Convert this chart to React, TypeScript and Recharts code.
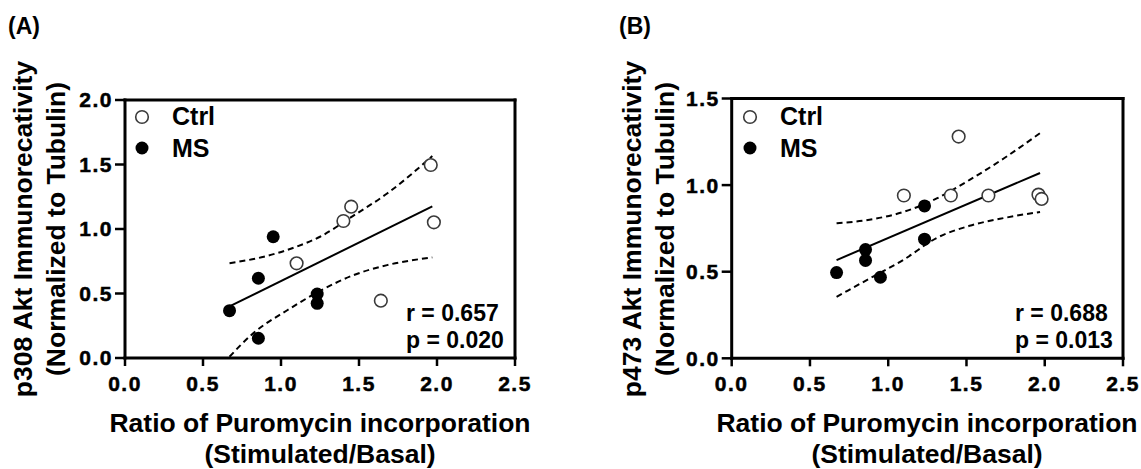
import React from 'react';
import { ScatterChart, Scatter, XAxis, YAxis, Legend } from 'recharts';

const FONT = '"Liberation Sans", Arial, Helvetica, sans-serif';

// shared x values: puromycin incorporation ratio (stimulated/basal)
const puroCtrl = [1.1, 1.4, 1.45, 1.64, 1.96, 1.98];
const puroMS = [0.67, 0.855, 0.855, 0.95, 1.232, 1.232];

// panel A: p308 Akt
const p308Ctrl = [0.734, 1.062, 1.173, 0.444, 1.496, 1.052];
const p308MS = [0.367, 0.618, 0.153, 0.94, 0.496, 0.424];
const fitXA = [0.67, 1.97];
const fitYA = [0.4, 1.175];
const upperXA = [0.67, 0.89, 1.1, 1.25, 1.46, 1.68, 1.97];
const upperYA = [0.735, 0.785, 0.863, 0.94, 1.1, 1.275, 1.565];
const lowerXA = [0.67, 0.82, 1.04, 1.25, 1.46, 1.68, 1.97];
const lowerYA = [0.01, 0.19, 0.37, 0.52, 0.64, 0.72, 0.78];

// panel B: p473 Akt
const p473Ctrl = [0.94, 0.94, 1.28, 0.94, 0.945, 0.92];
const p473MS = [0.495, 0.628, 0.565, 0.468, 0.88, 0.688];
const fitXB = [0.67, 1.97];
const fitYB = [0.567, 1.07];
const bandXB = [0.67, 0.88, 1.1, 1.31, 1.52, 1.74, 1.97];
const upperYB = [0.78, 0.8, 0.846, 0.923, 1.03, 1.155, 1.3];
const lowerYB = [0.355, 0.46, 0.57, 0.695, 0.765, 0.81, 0.845];

const xTicks = [0, 0.5, 1, 1.5, 2, 2.5];
const yTicksA = [0, 0.5, 1, 1.5, 2];
const yTicksB = [0, 0.5, 1, 1.5];
const groups = ['Ctrl', 'MS'];

const pts = (xs: number[], ys: number[]) => xs.map((x, i) => ({ x, y: ys[i] }));

const openDot = (p: any) => (
  <circle cx={p.cx} cy={p.cy} r={6.3} fill="#fff" stroke="#3a3a3a" strokeWidth={1.6} />
);
const filledDot = (p: any) => <circle cx={p.cx} cy={p.cy} r={6.5} fill="#000" />;
const noDot = () => null;

// tick label drawn as plain svg text so the font sticks
const TickLabel = (props: any) => {
  const { x, y, payload, textAnchor, verticalAnchor } = props;
  const dy = verticalAnchor === 'start' ? '0.71em' : '0.355em';
  return (
    <text
      x={x}
      y={y}
      dy={dy}
      textAnchor={textAnchor}
      fill="#000"
      stroke="#000"
      strokeWidth={0.5}
      style={{ fontFamily: FONT, fontSize: 21, fontWeight: 700, letterSpacing: '1.5px' }}
    >
      {payload.value.toFixed(1)}
    </text>
  );
};

const axisLine = { stroke: '#000', strokeWidth: 3, strokeLinecap: 'square' as const };
const tickLine = { stroke: '#000', strokeWidth: 2.5 };

const renderLegend = (props: any) => {
  const items = (props.payload || []).filter((e: any) => groups.includes(e.value));
  return (
    <div style={{ fontFamily: FONT, fontWeight: 700, fontSize: 25 }}>
      {items.map((e: any) => (
        <div key={e.value} style={{ display: 'flex', alignItems: 'center', height: 31.6 }}>
          <svg width={16} height={16}>
            {e.value === 'Ctrl' ? (
              <circle cx={8} cy={8} r={6.3} fill="#fff" stroke="#3a3a3a" strokeWidth={1.6} />
            ) : (
              <circle cx={8} cy={8} r={6.5} fill="#000" />
            )}
          </svg>
          <span style={{ marginLeft: 22, lineHeight: 1 }}>{e.value}</span>
        </div>
      ))}
    </div>
  );
};

type PanelProps = {
  letter: string;
  left: number;
  width: number;
  margin: { top: number; right: number; bottom: number; left: number };
  yMax: number;
  yTicks: number[];
  ctrl: number[];
  ms: number[];
  fit: { x: number; y: number }[];
  upper: { x: number; y: number }[];
  lower: { x: number; y: number }[];
  yTitle: string;
  stats: string[];
  letterLeft: number;
  legendLeft: number;
  statsLeft: number;
  yTitleX: number;
  xTitleX: number;
};

function Panel(p: PanelProps) {
  const dash = { stroke: '#000', strokeWidth: 2, strokeDasharray: '6 4' };
  return (
    <div style={{ position: 'absolute', left: p.left, top: 0, width: p.width, height: 469 }}>
      <div
        style={{
          position: 'absolute',
          left: p.letterLeft,
          top: 15,
          fontFamily: FONT,
          fontWeight: 700,
          fontSize: 23,
          lineHeight: 1,
        }}
      >
        {p.letter}
      </div>
      <ScatterChart width={p.width} height={469} margin={p.margin}>
        <XAxis
          type="number"
          dataKey="x"
          domain={[0, 2.5]}
          ticks={xTicks}
          allowDataOverflow
          height={30}
          tickSize={8}
          tickMargin={10}
          tick={<TickLabel />}
          axisLine={axisLine}
          tickLine={tickLine}
        />
        <XAxis
          xAxisId="top"
          orientation="top"
          type="number"
          domain={[0, 2.5]}
          ticks={xTicks}
          allowDataOverflow
          height={10}
          tickSize={6}
          tick={false}
          axisLine={axisLine}
          tickLine={tickLine}
        />
        <YAxis
          type="number"
          dataKey="y"
          domain={[0, p.yMax]}
          ticks={p.yTicks}
          allowDataOverflow
          width={60}
          tickSize={10}
          tickMargin={2}
          tick={<TickLabel />}
          axisLine={axisLine}
          tickLine={tickLine}
        />
        <YAxis
          yAxisId="right"
          orientation="right"
          type="number"
          domain={[0, p.yMax]}
          ticks={p.yTicks}
          allowDataOverflow
          width={10}
          tickSize={6}
          tick={false}
          axisLine={axisLine}
          tickLine={tickLine}
        />
        <Scatter
          data={p.upper}
          line={dash}
          lineJointType="monotoneX"
          shape={noDot}
          legendType="none"
          isAnimationActive={false}
        />
        <Scatter
          data={p.lower}
          line={dash}
          lineJointType="monotoneX"
          shape={noDot}
          legendType="none"
          isAnimationActive={false}
        />
        <Scatter
          data={p.fit}
          line={{ stroke: '#000', strokeWidth: 2 }}
          shape={noDot}
          legendType="none"
          isAnimationActive={false}
        />
        <Scatter name="Ctrl" data={pts(puroCtrl, p.ctrl)} fill="#fff" shape={openDot} isAnimationActive={false} />
        <Scatter name="MS" data={pts(puroMS, p.ms)} fill="#000" shape={filledDot} isAnimationActive={false} />
        <Legend
          layout="vertical"
          align="center"
          verticalAlign="middle"
          wrapperStyle={{ left: p.legendLeft, top: 101, width: 'auto' }}
          content={renderLegend}
        />
      </ScatterChart>
      <div
        style={{
          position: 'absolute',
          left: p.statsLeft,
          top: 299.7,
          fontFamily: FONT,
          fontWeight: 700,
          fontSize: 23,
          lineHeight: '27.6px',
          whiteSpace: 'nowrap',
        }}
      >
        {p.stats.map((s) => (
          <div key={s}>{s}</div>
        ))}
      </div>
      <div
        style={{
          position: 'absolute',
          left: p.yTitleX - 200,
          top: 229 - 33,
          width: 400,
          height: 66,
          transform: 'rotate(-90deg)',
          fontFamily: FONT,
          fontWeight: 700,
          fontSize: 26.5,
          lineHeight: '33px',
          textAlign: 'center',
          whiteSpace: 'nowrap',
        }}
      >
        <div>{p.yTitle}</div>
        <div>(Normalized to Tubulin)</div>
      </div>
      <div
        style={{
          position: 'absolute',
          left: p.xTitleX - 300,
          top: 407.5,
          width: 600,
          fontFamily: FONT,
          fontWeight: 700,
          fontSize: 26.5,
          lineHeight: '31px',
          textAlign: 'center',
          whiteSpace: 'nowrap',
        }}
      >
        <div>Ratio of Puromycin incorporation</div>
        <div>(Stimulated/Basal)</div>
      </div>
    </div>
  );
}

export default function App() {
  return (
    <div style={{ position: 'absolute', left: 0, top: 0, width: 1141, height: 469, background: '#fff', overflow: 'hidden' }}>
      <Panel
        letter="(A)"
        left={0}
        width={570}
        margin={{ top: 90, right: 45, bottom: 81, left: 65 }}
        yMax={2}
        yTicks={yTicksA}
        ctrl={p308Ctrl}
        ms={p308MS}
        fit={pts(fitXA, fitYA)}
        upper={pts(upperXA, upperYA)}
        lower={pts(lowerXA, lowerYA)}
        yTitle="p308 Akt Immunorecativity"
        stats={['r = 0.657', 'p = 0.020']}
        letterLeft={8}
        legendLeft={134}
        statsLeft={406}
        yTitleX={40}
        xTitleX={320}
      />
      <Panel
        letter="(B)"
        left={570}
        width={571}
        margin={{ top: 88.5, right: 8, bottom: 80.7, left: 101.7 }}
        yMax={1.5}
        yTicks={yTicksB}
        ctrl={p473Ctrl}
        ms={p473MS}
        fit={pts(fitXB, fitYB)}
        upper={pts(bandXB, upperYB)}
        lower={pts(bandXB, lowerYB)}
        yTitle="p473 Akt Immunorecativity"
        stats={['r = 0.688', 'p = 0.013']}
        letterLeft={49}
        legendLeft={172}
        statsLeft={445}
        yTitleX={79}
        xTitleX={357}
      />
    </div>
  );
}
